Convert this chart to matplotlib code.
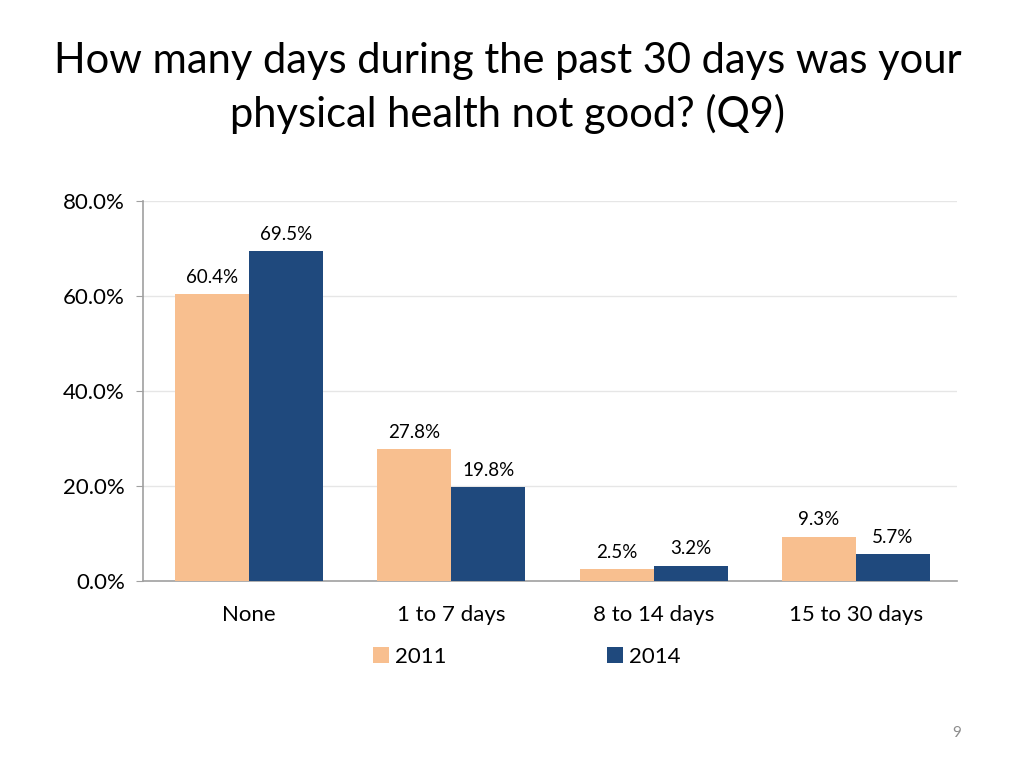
import matplotlib
matplotlib.use("Agg")
import matplotlib.pyplot as plt
import numpy as np
from matplotlib.ticker import FuncFormatter

categories = ["None", "1 to 7 days", "8 to 14 days", "15 to 30 days"]
series_names = ["2011", "2014"]
values_2011 = [60.4, 27.8, 2.5, 9.3]
values_2014 = [69.5, 19.8, 3.2, 5.7]
colors = ["#F8BF8F", "#1F497D"]
yticks = [0, 20, 40, 60, 80]

plt.rcParams['font.family'] = ['Lato', 'DejaVu Sans']

fig = plt.figure(figsize=(10.24, 7.68), dpi=100)
ax = fig.add_axes([143/1024, 1-581/768, (957-143)/1024, (581-201)/768])

x = np.arange(len(categories))
w = 0.366
b1 = ax.bar(x - w/2, values_2011, w, color=colors[0], label=series_names[0], zorder=3)
b2 = ax.bar(x + w/2, values_2014, w, color=colors[1], label=series_names[1], zorder=3)

for bars, vals in ((b1, values_2011), (b2, values_2014)):
    for r, v in zip(bars, vals):
        ax.annotate(f"{v:.1f}%", (r.get_x() + r.get_width()/2, v), xytext=(0, 6),
                    textcoords="offset points", ha="center", va="bottom", fontsize=13.5)

ax.set_xlim(-0.524, 3.5)
ax.set_ylim(0, 80)
ax.set_yticks(yticks)
ax.yaxis.set_major_formatter(FuncFormatter(lambda v, p: f"{v:.1f}%"))
ax.set_xticks(x)
ax.set_xticklabels(categories)
ax.tick_params(axis='x', length=0, labelsize=16, pad=17)
ax.tick_params(axis='y', length=5, color="#A0A0A0", labelsize=16, pad=8)
ax.grid(axis='y', color="#E6E6E6", linewidth=1, zorder=0)
for s in ("top", "right"):
    ax.spines[s].set_visible(False)
for s in ("left", "bottom"):
    ax.spines[s].set_color("#A0A0A0")
    ax.spines[s].set_linewidth(1.2)

fig.legend(handles=[b1, b2], labels=series_names, loc="center", bbox_to_anchor=(527/1024, 1-657/768),
           ncol=2, frameon=False, fontsize=16, handlelength=0.7, handleheight=0.7,
           columnspacing=7.2, handletextpad=0.3)

fig.text(508/1024, 1-88/768, "How many days during the past 30 days was your\nphysical health not good? (Q9)",
         ha="center", va="center", fontsize=30, linespacing=1.4)
fig.text(957/1024, 1-733/768, "9", ha="center", va="center", fontsize=11, color="#8C8C8C")

fig.savefig("out.png", dpi=100)
